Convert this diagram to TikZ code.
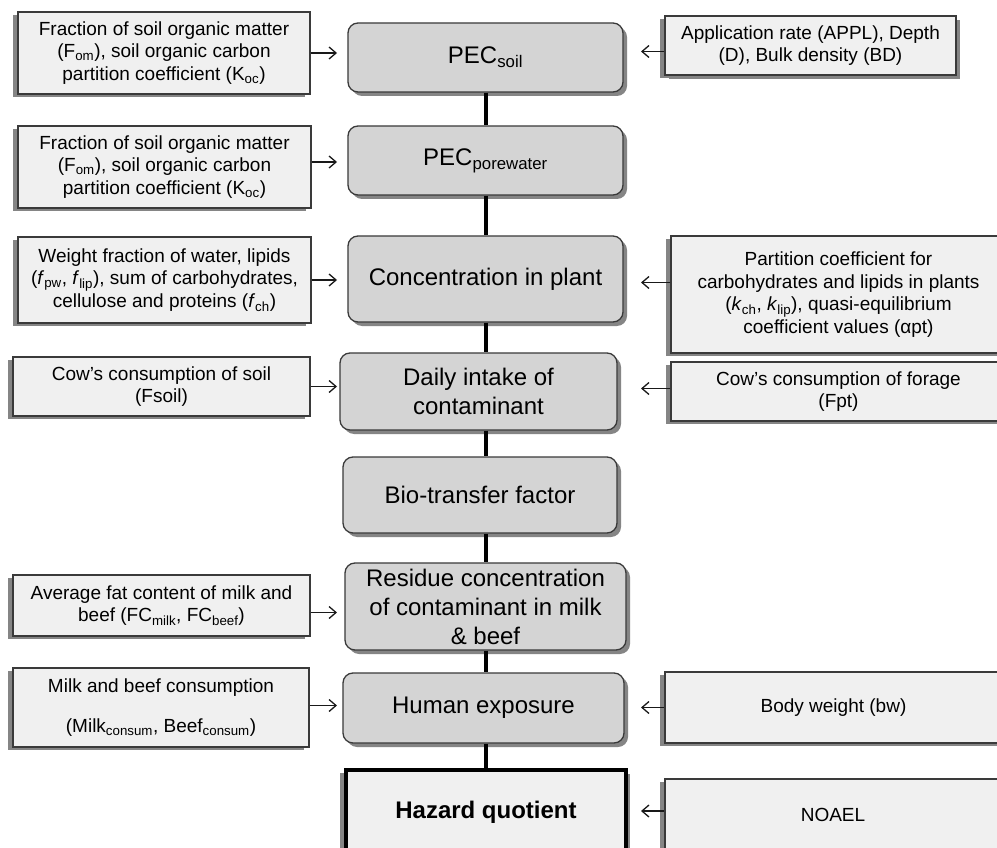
\documentclass[tikz,border=0pt]{standalone}
\usepackage{fontspec}
\setmainfont{Liberation Sans}
\usepackage{tikz}
\usetikzlibrary{arrows.meta,shadows,positioning}
\definecolor{stepfill}{HTML}{D4D4D4}
\definecolor{inputfill}{HTML}{F0F0F0}
\definecolor{edgegrey}{HTML}{3A3A3A}
\definecolor{shadowgrey}{HTML}{858585}
\pgfmathsetmacro{\chainx}{486}
\pgfmathsetmacro{\tipleft}{337}
\pgfmathsetmacro{\tipright}{641}

\tikzset{
  stepbox/.style={draw=edgegrey, line width=1.3pt, fill=stepfill, rounded corners=10pt,
    align=center, inner sep=3pt, font=\fontsize{24}{29}\selectfont,
    drop shadow={shadow xshift=4pt, shadow yshift=-4pt, fill=shadowgrey, opacity=1}},
  inputbox/.style={draw=edgegrey, line width=1.3pt, fill=inputfill,
    align=center, inner sep=3pt, font=\fontsize{19}{22.5}\selectfont,
    drop shadow={shadow xshift=-5pt, shadow yshift=-3pt, fill=shadowgrey, opacity=1}},
  feed/.style={-{Straight Barb[length=7pt,width=12pt]}, line width=1.3pt, black!90},
  chain/.style={line width=4pt, black}
}

\begin{document}
\begin{tikzpicture}[x=1pt, y=-1pt]
    \path[fill=white] (0,0) rectangle (997,848);
    \useasboundingbox (0,0) rectangle (997,848);
    % tips of the input arrows
    \coordinate (left_tip) at (\tipleft, 0);
    \coordinate (right_tip) at (\tipright, 0);
    % central chain
    \node[stepbox, minimum width=275pt, minimum height=69pt] (pec_soil) at (485.5, 57.5) {PEC\textsubscript{soil}};
    \node[stepbox, minimum width=275pt, minimum height=69pt] (pec_pore) at (485.5, 160.5) {PEC\textsubscript{porewater}};
    \node[stepbox, minimum width=275pt, minimum height=86pt] (plant_conc) at (485.5, 279) {Concentration in plant};
    \node[stepbox, minimum width=277pt, minimum height=77pt] (daily_intake) at (478.5, 391.5) {Daily intake of\\contaminant};
    \node[stepbox, minimum width=274pt, minimum height=76pt] (bio_tf) at (480, 495) {Bio-transfer factor};
    \node[stepbox, minimum width=281pt, minimum height=87pt] (residue) at (485.5, 606.5) {Residue concentration\\of contaminant in milk\\\& beef};
    \node[stepbox, minimum width=281pt, minimum height=70pt] (human_exp) at (483.5, 708) {Human exposure};
    \node[stepbox, fill=inputfill, rounded corners=0pt, draw=black, line width=4pt,
      minimum width=280pt, minimum height=84pt,
      drop shadow={shadow xshift=-6pt, shadow yshift=-3pt, fill=shadowgrey, opacity=1}]
      (hazard) at (486, 812) {\textbf{Hazard quotient}};
    % inputs on the left
    \node[inputbox, minimum width=292pt, minimum height=82pt] (foc_soil) at (164, 53)
      {Fraction of soil organic matter\\(F\textsubscript{om}), soil organic carbon\\partition coefficient (K\textsubscript{oc})};
    \node[inputbox, minimum width=293pt, minimum height=82pt] (foc_pore) at (164.5, 167)
      {Fraction of soil organic matter\\(F\textsubscript{om}), soil organic carbon\\partition coefficient (K\textsubscript{oc})};
    \node[inputbox, minimum width=293pt, minimum height=86pt] (plant_frac) at (164.5, 280)
      {Weight fraction of water, lipids\\(\textit{f}\textsubscript{pw}, \textit{f}\textsubscript{lip}), sum of carbohydrates,\\cellulose and proteins (\textit{f}\textsubscript{ch})};
    \node[inputbox, minimum width=297pt, minimum height=59pt] (cow_soil) at (161.5, 386.5)
      {Cow's consumption of soil\\(Fsoil)};
    \node[inputbox, minimum width=297pt, minimum height=61pt] (fat_content) at (161.5, 605.5)
      {Average fat content of milk and\\beef (FC\textsubscript{milk}, FC\textsubscript{beef})};
    \node[inputbox, minimum width=296pt, minimum height=79pt] (consum) at (161, 707.5)
      {Milk and beef consumption\\[18pt](Milk\textsubscript{consum}, Beef\textsubscript{consum})};
    % inputs on the right
    \node[inputbox, minimum width=291pt, minimum height=59pt,
      drop shadow={shadow xshift=4pt, shadow yshift=-4pt, fill=shadowgrey, opacity=1}]
      (appl) at (810.5, 45.5) {Application rate (APPL), Depth\\(D), Bulk density (BD)};
    \node[inputbox, minimum width=335pt, minimum height=117pt] (kpart) at (838.5, 294.5)
      {Partition coefficient for\\carbohydrates and lipids in plants\\(\textit{k}\textsubscript{ch}, \textit{k}\textsubscript{lip}), quasi-equilibrium\\coefficient values (αpt)};
    \node[inputbox, minimum width=335pt, minimum height=59pt] (cow_forage) at (838.5, 391.5)
      {Cow's consumption of forage\\(Fpt)};
    \node[inputbox, minimum width=337pt, minimum height=71pt] (body_wt) at (833.5, 707.5) {Body weight (bw)};
    \node[inputbox, minimum width=336pt, minimum height=72pt] (noael) at (833, 815) {NOAEL};
    % draw connectors
    \foreach \a/\b in {pec_soil/pec_pore, pec_pore/plant_conc, plant_conc/daily_intake,
      daily_intake/bio_tf, bio_tf/residue, residue/human_exp, human_exp/hazard}
      \draw[chain] (\a.south -| pec_soil) -- (\b.north -| pec_soil);
    \foreach \src/\dy in {foc_soil/0, foc_pore/5, plant_frac/0, cow_soil/0, fat_content/-7, consum/2}
      \draw[feed] ([yshift=\dy pt]\src.east) -- ([yshift=\dy pt]\src.east -| left_tip);
    \foreach \src/\dy in {appl/-6, kpart/12, cow_forage/3, body_wt/0, noael/4}
      \draw[feed] ([yshift=\dy pt]\src.west) -- ([yshift=\dy pt]\src.west -| right_tip);
\end{tikzpicture}
\end{document}
